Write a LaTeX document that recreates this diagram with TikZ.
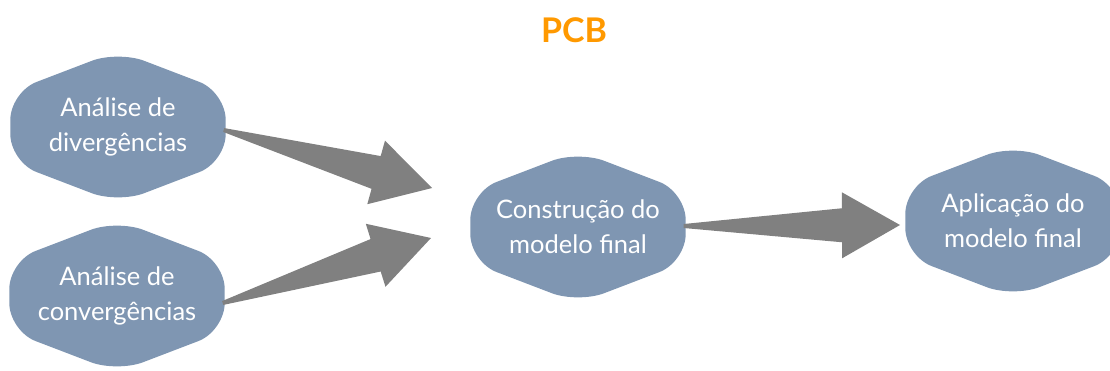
\documentclass[tikz,border=0pt]{standalone}
\usepackage{fontspec}
\setmainfont{Lato}
\usetikzlibrary{calc}
\usetikzlibrary{backgrounds}

\definecolor{azulbloco}{RGB}{127,150,178}
\definecolor{cinzaseta}{RGB}{128,128,128}
\definecolor{laranja}{RGB}{255,153,0}

\tikzset{
  bloco/.style={minimum width=215pt, minimum height=152pt, inner sep=0pt,
    align=center, text=white, font=\fontsize{25.5}{35}\selectfont},
  hexa/.style={fill=azulbloco, rounded corners=28pt},
  seta/.style={fill=cinzaseta},
}

\newcommand{\setagrossa}[2]{%
  \fill [seta] ($ (#1)!2pt!90:(#2) $)
    -- ($ (#2)!58pt!(#1)!17pt!90:(#2) $)
    -- ($ (#2)!58pt!(#1)!33pt!90:(#2) $)
    -- (#2)
    -- ($ (#2)!58pt!(#1)!33pt!-90:(#2) $)
    -- ($ (#2)!58pt!(#1)!17pt!-90:(#2) $)
    -- ($ (#1)!2pt!-90:(#2) $) -- cycle;
}

\begin{document}
\begin{tikzpicture}[x=1pt,y=-1pt]
  \useasboundingbox (0,0) rectangle (1110,370);

  \node [font=\bfseries\fontsize{34}{34}\selectfont, text=laranja] (titulo) at (574,30) {PCB};

  \node [bloco] (div) at (118,127) {Análise de\\divergências};
  \node [bloco] (conv) at (117,296) {Análise de\\convergências};
  \node [bloco] (cons) at (578,227) {Construção do\\modelo final};
  \node [bloco] (apl) at (1013,221) {Aplicação do\\modelo final};

  \begin{scope}[on background layer]
    \foreach \n in {div,conv,cons,apl}
      \fill [hexa] (\n.north) -- ($ (\n.east)+(0,-35) $) -- ($ (\n.east)+(0,35) $)
        -- (\n.south) -- ($ (\n.west)+(0,35) $) -- ($ (\n.west)+(0,-35) $) -- cycle;
  \end{scope}

  \coordinate (t1) at ($ (div.east)+(-2,3) $);
  \coordinate (t2) at ($ (conv.east)+(-2,7) $);
  \coordinate (t3) at ($ (cons.east)+(-2,-1) $);
  \coordinate (p1) at (432,188);
  \coordinate (p2) at (431,238);
  \coordinate (p3) at (900,225);

  \setagrossa{t1}{p1}
  \setagrossa{t2}{p2}
  \setagrossa{t3}{p3}
\end{tikzpicture}
\end{document}
